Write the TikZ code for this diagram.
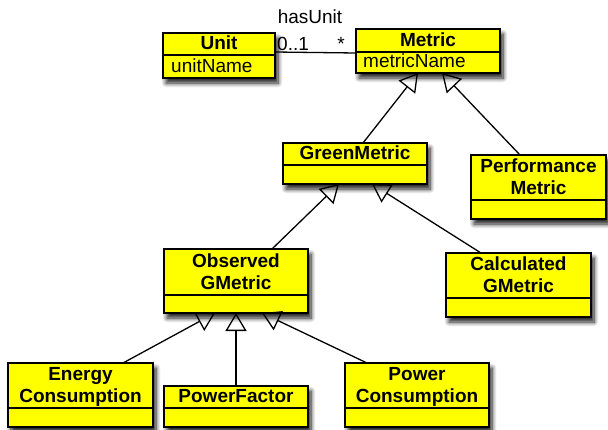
\documentclass[tikz,border=0pt]{standalone}
\usepackage{fontspec}
\setmainfont{Liberation Sans}
\usetikzlibrary{arrows.meta,shadows.blur}
\definecolor{umlyellow}{RGB}{255,255,0}
\tikzset{
  classbox/.style={draw=black, line width=1.5pt, fill=umlyellow, inner sep=0pt, outer sep=0pt, anchor=north west,
     blur shadow={shadow xshift=3pt, shadow yshift=-5pt, shadow blur radius=4.5pt, shadow opacity=90, shadow blur steps=8}},
  headtext/.style={font=\fontsize{19}{22}\selectfont\bfseries, align=center, anchor=base, inner sep=0pt},
  attrtext/.style={font=\fontsize{19}{22}\selectfont, anchor=base west, inner sep=0pt},
  divline/.style={line width=1.5pt},
  gen/.style={line width=1.3pt, -{Triangle[open, length=18pt, width=21pt]}},
  assoc/.style={line width=1.3pt},
  lbl/.style={font=\fontsize{19}{22}\selectfont, inner sep=0pt, anchor=base},
}
\newcommand\umlclass[7]{%
  \node[classbox, minimum width={(#4-#2)*1pt}, minimum height={(#6-#3)*1pt}] (#1) at (#2,#3) {};
  \draw[divline] (#2,#5) -- (#4,#5);
  \node[headtext] (#1-head) at ({(#2+#4)/2},{#5-5.5}) {#7};
}
\begin{document}
\begin{tikzpicture}[x=1pt,y=-1pt]
\useasboundingbox (0,0) rectangle (608,429);
\umlclass{unit}{163}{33}{275}{55}{78}{Unit}
\node[attrtext] (unit-attr) at (171,72.5) {unitName};
\umlclass{metric}{356}{29}{500}{52}{73}{Metric}
\node[attrtext] (metric-attr) at (363,67.5) {metricName};
\umlclass{green}{283}{143}{427}{165}{184}{GreenMetric}
\umlclass{perf}{471}{155}{606}{200}{219}{Performance\\Metric}
\umlclass{calc}{446}{253}{591}{298}{317}{Calculated\\GMetric}
\umlclass{obs}{164}{249}{308}{295}{313}{Observed\\GMetric}
\umlclass{energy}{8}{363}{153}{408}{427}{Energy\\Consumption}
\umlclass{pf}{164}{386}{308}{408}{427}{PowerFactor}
\umlclass{pc}{345}{363}{489}{408}{427}{Power\\Consumption}

\draw[assoc] ([yshift=3.5pt]unit.east) -- ([yshift=-2pt]metric.west);
\node[lbl] (hasunit) at (310,23) {hasUnit};
\node[lbl, anchor=base west] (mult1) at (277,50) {0..1};
\node[lbl] (mult2) at (341,50) {*};

\draw[gen] ([xshift=8pt]green.north) -- ([xshift=-10pt]metric.south);
\draw[gen] ([xshift=-18.5pt]perf.north) -- ([xshift=14pt]metric.south);
\draw[gen] ([xshift=36pt]obs.north) -- ([xshift=-16pt]green.south);
\draw[gen] ([xshift=-37.5pt]calc.north) -- ([xshift=17pt]green.south);
\draw[gen] ([xshift=42.5pt]energy.north) -- ([xshift=-21pt]obs.south);
\draw[gen] (pf.north) -- (obs.south);
\draw[gen] ([xshift=-50pt]pc.north) -- ([xshift=26pt]obs.south);
\end{tikzpicture}
\end{document}
